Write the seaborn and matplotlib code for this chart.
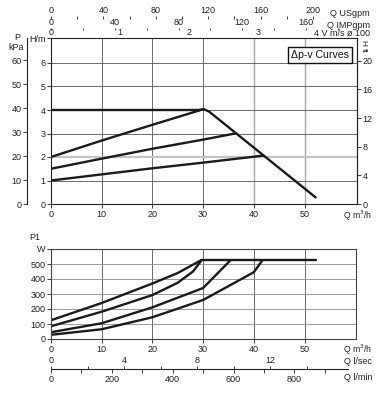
import matplotlib
matplotlib.use('Agg')
import matplotlib.pyplot as plt
import seaborn as sns
from matplotlib.ticker import FixedLocator

# ---------------- data ----------------
# Top chart: head H [m] vs flow Q [m3/h]
max_q = [0, 29, 30.2, 31.2, 52.2]
max_h = [4.0, 4.0, 4.03, 3.93, 0.28]
p1_q = [0, 10, 20, 30]
p1_h = [2.0, 2.70, 3.37, 4.03]
p2_q = [0, 10, 20, 30, 36.3]
p2_h = [1.5, 1.93, 2.35, 2.74, 3.0]
p3_q = [0, 10, 20, 30, 41.9]
p3_h = [1.0, 1.26, 1.52, 1.76, 2.06]

# Bottom chart: power P1 [W] vs flow Q [m3/h]
c1_q = [0, 10, 20, 25, 29.6]
c1_p = [125, 240, 370, 440, 525]
c2_q = [0, 10, 20, 25, 28, 29.7]
c2_p = [85, 182, 293, 375, 450, 525]
c3_q = [0, 10, 20, 30, 35.4]
c3_p = [45, 105, 211, 340, 525]
c4_q = [0, 10, 20, 30, 40, 41.7]
c4_p = [28, 65, 145, 260, 445, 525]
flat_q = [29.6, 52.3]
flat_p = [527, 527]

q_ticks = [0, 10, 20, 30, 40, 50]
h_ticks = [0, 1, 2, 3, 4, 5, 6]
kpa_ticks = [0, 10, 20, 30, 40, 50, 60]
ft_ticks = [0, 4, 8, 12, 16, 20]
w_ticks = [0, 100, 200, 300, 400, 500]
usgpm_ticks = [0, 40, 80, 120, 160, 200]
impgpm_ticks = [0, 40, 80, 120, 160]
vel_ticks = [0, 1, 2, 3]
ls_ticks = [0, 4, 8, 12]
lmin_ticks = [0, 200, 400, 600, 800]

# ---------------- style ----------------
sns.set_theme(style='white')
plt.rcParams['font.family'] = ['Liberation Sans', 'DejaVu Sans']
FS = 6.5
LC = '#1a1a1a'
LW = 1.7

W, H = 389, 393
fig = plt.figure(figsize=(W / 100, H / 100), dpi=100)


def box(l, t, r, b):
    return [l / W, 1 - b / H, (r - l) / W, (b - t) / H]


def ftxt(px, py, s, **kw):
    kw.setdefault('fontsize', FS)
    kw.setdefault('color', '#222222')
    fig.text(px / W, 1 - py / H, s, **kw)


PX_PER_Q = 5.07

# ---------------- top chart ----------------
ax = fig.add_axes(box(51, 38, 357, 204))
top_xmax = 306 / PX_PER_Q
top_ymax = 166 / 23.5
ax.set_xlim(0, top_xmax)
ax.set_ylim(0, top_ymax)
for q, h in [(max_q, max_h), (p1_q, p1_h), (p2_q, p2_h), (p3_q, p3_h)]:
    sns.lineplot(x=q, y=h, ax=ax, color=LC, lw=LW, sort=False, estimator=None)
ax.set_xticks(q_ticks)
ax.set_xticklabels([str(v) for v in q_ticks])
ax.set_yticks(h_ticks + [top_ymax])
ax.set_yticklabels([str(v) for v in h_ticks] + ['H/m'])
ax.grid(True, color='#555555', lw=0.6)
xg = ax.get_xgridlines()
for i in (4, 5):
    xg[i].set_color('#a8a8a8')
    xg[i].set_linewidth(1.0)
yg = ax.get_ygridlines()
yg[2].set_color('#c4c4c4')
yg[2].set_linewidth(1.6)
yg[7].set_visible(False)
ax.tick_params(bottom=True, left=True, direction='out', length=3, width=0.6,
               pad=1, labelsize=FS, colors='#222222')
for s in ax.spines.values():
    s.set_color('#222222')
    s.set_linewidth(0.8)
ax.text(0.879, 0.898, 'Δp-v Curves', transform=ax.transAxes, ha='center',
        va='center', fontsize=7.6, color='#111111',
        bbox=dict(boxstyle='square,pad=0.3', fc='white', ec='#111111', lw=1.0))

# ft axis (right)
axf = ax.twinx()
axf.set_ylim(0, top_ymax / 0.3048)
axf.set_yticks(ft_ticks)
axf.set_yticklabels([str(v) for v in ft_ticks])
axf.tick_params(right=True, direction='out', length=3, width=0.6, pad=1,
                labelsize=FS, colors='#222222')
axf.grid(False)
for k in ('top', 'bottom', 'left'):
    axf.spines[k].set_visible(False)
axf.spines['right'].set_linewidth(0.8)
axf.spines['right'].set_color('#222222')

# kPa axis (left, offset)
axk = ax.twinx()
axk.set_ylim(0, top_ymax * 9.81)
axk.yaxis.set_ticks_position('left')
axk.yaxis.set_label_position('left')
axk.spines['left'].set_position(('axes', -24 / 306))
for k in ('top', 'bottom', 'right'):
    axk.spines[k].set_visible(False)
axk.spines['left'].set_visible(True)
axk.spines['left'].set_linewidth(0.8)
axk.spines['left'].set_color('#222222')
axk.set_yticks(kpa_ticks)
axk.set_yticklabels([str(v) for v in kpa_ticks])
axk.tick_params(left=True, right=False, direction='out', length=3, width=0.6,
                pad=1, labelsize=FS, colors='#222222')
axk.grid(False)

ftxt(17, 37, 'P', ha='center', va='center')
ftxt(16, 47, 'kPa', ha='center', va='center')
ftxt(363, 43, 'H', ha='center', va='center', rotation=-90, fontsize=6)
ftxt(363, 50.5, 'ft', ha='center', va='center', rotation=-90, fontsize=6)
ftxt(372, 216, 'Q m$^3$/h', ha='right', va='center', fontsize=6.2)


def scale_row(py, xmax, major, minor, labels, side, length, pad, spine=False,
              right_px=357):
    a = fig.add_axes(box(51, py, right_px, py + 0.01))
    a.set_facecolor('none')
    a.set_xlim(0, xmax)
    a.set_ylim(0, 1)
    a.yaxis.set_visible(False)
    for s in a.spines.values():
        s.set_visible(False)
    if spine:
        a.spines[side].set_visible(True)
        a.spines[side].set_linewidth(0.8)
        a.spines[side].set_color('#222222')
    a.xaxis.set_ticks_position(side)
    a.xaxis.set_label_position(side)
    a.set_xticks(major)
    a.set_xticklabels(labels)
    if minor:
        a.xaxis.set_minor_locator(FixedLocator(minor))
    a.tick_params(axis='x', which='both', direction='out', length=length,
                  width=0.6, pad=pad, labelsize=FS, colors='#222222')
    a.tick_params(axis='x', which='both', **{side: True})
    a.grid(False)
    return a


# top scale rows
scale_row(19, 306 / 1.31, usgpm_ticks, [20, 60, 100, 140, 180],
          [str(v) for v in usgpm_ticks], 'top', 2, 1)
scale_row(30, 306 / 1.594, impgpm_ticks, [20, 60, 100, 140, 180],
          [str(v) for v in impgpm_ticks], 'top', 1.5, 0.8)
scale_row(38.5, 306 / 69.0, vel_ticks, None,
          [str(v) for v in vel_ticks], 'top', 0, 1)
ftxt(370, 13, 'Q USgpm', ha='right', va='center')
ftxt(370, 25, 'Q IMPgpm', ha='right', va='center')
ftxt(370, 34, '4 V m/s ø 100', ha='right', va='center')

# ---------------- bottom chart ----------------
axb = fig.add_axes(box(51, 249, 356, 339))
bot_xmax = 305 / PX_PER_Q
axb.set_xlim(0, bot_xmax)
axb.set_ylim(0, 600)
for q, p in [(c1_q, c1_p), (c2_q, c2_p), (c3_q, c3_p), (c4_q, c4_p),
             (flat_q, flat_p)]:
    sns.lineplot(x=q, y=p, ax=axb, color=LC, lw=LW, sort=False, estimator=None)
axb.set_xticks(q_ticks)
axb.set_xticklabels([str(v) for v in q_ticks])
axb.set_yticks(w_ticks + [600])
axb.set_yticklabels([str(v) for v in w_ticks] + ['W'])
axb.grid(True, color='#555555', lw=0.6)
for g in axb.get_ygridlines():
    g.set_color('#8a8a8a')
axb.get_ygridlines()[6].set_visible(False)
axb.tick_params(bottom=True, left=True, direction='out', length=3, width=0.6,
                pad=1, labelsize=FS, colors='#222222')
for s in axb.spines.values():
    s.set_color('#444444')
    s.set_linewidth(0.8)
ftxt(35, 237, 'P1', ha='center', va='center')
ftxt(372, 349.5, 'Q m$^3$/h', ha='right', va='center', fontsize=6.2)

# bottom scale rows (shared line)
line_right = 348
qspan = (line_right - 51) / PX_PER_Q
scale_row(369, qspan / 3.6, ls_ticks, [2, 6, 10, 14],
          [str(v) for v in ls_ticks], 'top', 2.5, 0.4, spine=True,
          right_px=line_right)
scale_row(369 - 0.01, qspan / 0.06, lmin_ticks, [100, 300, 500, 700, 900],
          [str(v) for v in lmin_ticks], 'bottom', 3, 1.5,
          right_px=line_right)
ftxt(372, 361, 'Q l/sec', ha='right', va='center')
ftxt(372, 378, 'Q l/min', ha='right', va='center')

fig.savefig('out.png', dpi=100)
